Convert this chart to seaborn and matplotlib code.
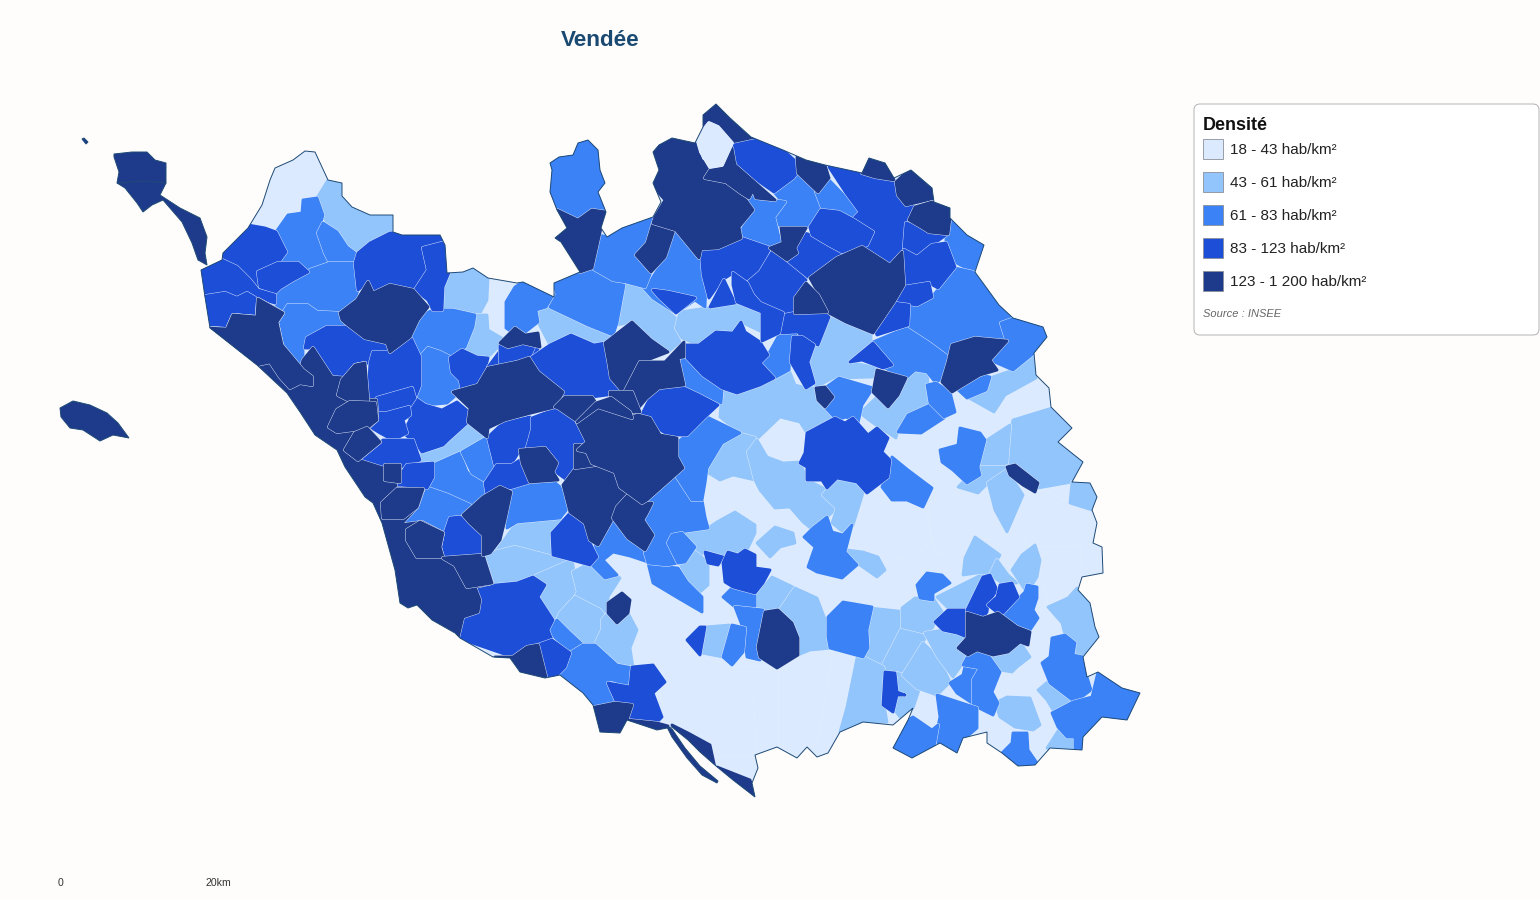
import matplotlib
matplotlib.use("Agg")
import matplotlib.pyplot as plt
import seaborn as sns
from matplotlib.patches import Polygon, FancyBboxPatch, Rectangle

#DATA: classes and commune shapes (x, y on the 1540x900 sheet)
class_labels = ["18 - 43 hab/km²", "43 - 61 hab/km²", "61 - 83 hab/km²", "83 - 123 hab/km²", "123 - 1 200 hab/km²"]
class_colors = ["#dbeafe", "#93c5fd", "#3b82f6", "#1d4ed8", "#1e3a8a"]

mainland = [(248,228),(262,205),(270,180),(275,168),(293,160),(305,151),(315,152),(328,180),(342,183),(342,196),(352,207),(370,215),(393,215),(393,232),(402,235),(440,235),(445,245),(447,273),(463,272),(473,268),(488,278),(517,283),(523,282),(554,297),(554,283),(580,272),(561,242),(555,238),(567,228),(557,210),(550,192),(552,170),(550,163),(559,157),(573,155),(578,143),(588,140),(598,150),(600,170),(605,183),(598,192),(606,212),(601,228),(607,237),(622,228),(653,217),(661,202),(653,183),(659,170),(653,152),(659,145),(672,138),(695,143),(703,127),(703,115),(716,104),(730,118),(751,137),(783,150),(806,160),(825,165),(862,173),(869,158),(885,163),(894,178),(911,170),(932,188),(934,202),(950,208),(950,218),(967,235),(984,245),(975,272),(999,305),(1013,318),(1043,327),(1047,337),(1034,353),(1036,375),(1049,388),(1051,407),(1072,428),(1058,442),(1083,462),(1072,482),(1090,483),(1097,497),(1092,510),(1097,523),(1093,543),(1102,547),(1103,573),(1082,577),(1078,590),(1090,603),(1095,627),(1099,637),(1083,657),(1087,677),(1098,672),(1122,688),(1140,693),(1127,720),(1102,717),(1083,737),(1082,750),(1050,748),(1035,765),(1018,766),(1002,753),(987,743),(987,732),(963,738),(957,753),(940,743),(912,758),(893,748),(908,720),(913,708),(893,725),(863,722),(840,732),(828,753),(817,757),(807,747),(797,758),(777,747),(755,755),(758,768),(752,783),(755,797),(733,780),(716,766),(700,752),(688,740),(672,727),(657,730),(627,720),(620,733),(600,732),(593,705),(583,693),(560,675),(545,678),(520,672),(510,658),(493,657),(460,638),(455,633),(432,620),(417,605),(408,608),(400,603),(395,570),(382,523),(373,503),(365,497),(345,467),(337,450),(315,435),(300,412),(287,393),(257,365),(210,328),(205,297),(201,270),(222,260),(223,253)]

islands = [
    [(114,154),(132,152),(147,152),(155,160),(166,163),(166,183),(119,183),(117,183),(119,172),(114,157)],
    [(117,183),(142,181),(166,183),(160,195),(180,208),(200,218),(207,237),(205,253),(207,265),(198,260),(192,243),(182,222),(163,200),(152,205),(143,212),(137,203),(125,188)],
    [(60,408),(73,401),(90,405),(107,413),(118,423),(129,438),(113,435),(100,441),(83,430),(70,428),(61,417)],
    [(82,139),(84,138),(88,142),(86,144)],
    [(667,727),(672,729),(685,748),(700,766),(718,781),(717,783),(702,775),(687,758),(672,737)],
]

cells_18_43 = [
    [(777,668),(810,650),(835,648),(830,680),(820,740),(807,747),(797,758),(777,747)],
    [(732,668),(777,668),(777,747),(755,755),(752,700)],
    [(656,680),(690,655),(732,668),(752,700),(755,755),(715,755),(690,725),(665,705)],
    [(835,648),(856,656),(848,700),(840,732),(828,753),(820,740),(830,680)],
    [(855,520),(880,490),(905,500),(925,510),(930,540),(915,555),(885,560),(852,545)],
    [(930,505),(950,490),(985,520),(1005,535),(975,540),(965,558),(935,550)],
    [(1040,560),(1060,545),(1078,540),(1080,575),(1075,590),(1050,605)],
    [(1010,510),(1040,490),(1070,505),(1092,510),(1097,523),(1093,543),(1060,545),(1030,545)],
]

cells_43_61 = [
    [(328,180),(317,198),(323,215),(327,223),(338,232),(347,247),(362,252),(370,243),(388,233),(395,227),(398,213),(370,205),(345,175)],
    [(442,310),(443,290),(443,277),(460,272),(473,268),(488,278),(487,300),(480,313),(470,313),(453,310)],
    [(477,315),(487,315),(488,330),(505,340),(488,357),(477,357),(465,348),(473,330)],
    [(546,307),(588,325),(613,330),(605,342),(594,345),(571,335),(550,345),(538,322),(536,310)],
    [(626,282),(643,287),(653,298),(680,322),(676,332),(680,342),(668,352),(651,340),(632,322),(617,325),(624,302)],
    [(680,312),(707,308),(737,302),(760,312),(762,332),(741,322),(739,332),(716,332),(699,345),(682,338),(676,328)],
    [(421,453),(443,443),(468,423),(485,438),(460,452),(433,463),(422,462)],
    [(497,550),(517,522),(562,519),(553,535),(553,557),(515,547),(490,552)],
    [(483,555),(515,547),(553,557),(570,560),(557,573),(533,577),(517,583),(493,583)],
    [(533,577),(572,560),(578,592),(575,597),(560,613),(557,620),(548,610),(538,597),(545,585)],
    [(573,572),(590,563),(620,578),(608,597),(608,613),(600,610),(575,597),(578,592)],
    [(560,613),(575,597),(600,610),(605,617),(602,630),(595,643),(585,643),(570,633),(557,620)],
    [(602,620),(608,613),(617,623),(628,613),(637,630),(630,648),(633,667),(617,665),(595,645),(602,630)],
    [(722,392),(739,393),(760,385),(775,378),(789,370),(795,385),(806,388),(816,388),(835,418),(807,433),(800,422),(780,417),(758,438),(740,433),(720,417)],
    [(707,472),(720,443),(737,433),(755,438),(747,452),(755,480),(733,475),(720,480)],
    [(748,452),(757,440),(767,457),(783,463),(800,462),(807,480),(823,488),(837,508),(813,530),(803,522),(790,507),(775,508),(760,490),(755,480)],
    [(823,495),(837,478),(857,482),(863,493),(853,525),(847,535),(832,523),(837,508)],
    [(829,318),(846,322),(871,335),(871,342),(850,362),(877,368),(875,377),(833,378),(816,387),(808,362),(814,345),(825,325)],
    [(860,413),(877,397),(888,407),(906,378),(915,372),(927,373),(930,405),(900,423),(896,438),(873,423)],
    [(990,378),(1013,370),(1032,353),(1036,378),(1005,395),(994,412),(969,398)],
    [(1007,443),(1013,420),(1052,408),(1058,413),(1072,428),(1058,442),(1083,462),(1072,482),(1038,488),(1025,477),(1007,465)],
    [(1072,482),(1090,483),(1097,497),(1092,510),(1070,503)],
    [(978,467),(987,440),(1010,425),(1007,463),(990,467)],
    [(958,487),(978,467),(1007,467),(988,483),(978,493)],
    [(988,483),(1007,470),(1023,495),(1007,532),(995,510)],
    [(847,550),(863,552),(878,557),(885,570),(877,577),(857,563)],
    [(757,543),(775,527),(793,533),(795,543),(780,547),(770,557)],
    [(680,532),(708,528),(717,522),(735,512),(755,525),(755,533),(747,550),(725,555),(710,550),(700,555),(680,542)],
    [(680,563),(695,552),(708,562),(708,585),(700,592),(687,582)],
    [(755,597),(772,577),(795,588),(785,608),(763,610),(755,605)],
    [(780,610),(795,588),(817,598),(828,627),(832,648),(810,650),(798,655),(797,640),(798,637),(792,622)],
    [(705,627),(730,625),(723,657),(702,653)],
    [(860,642),(870,608),(907,612),(900,627),(882,667),(863,657)],
    [(882,667),(902,628),(927,632),(923,643),(902,677)],
    [(902,608),(915,598),(933,598),(943,613),(935,620),(933,627),(927,633),(902,627)],
    [(937,597),(957,587),(977,577),(985,573),(973,607),(965,610),(948,608)],
    [(963,575),(965,558),(975,537),(1000,555),(990,573),(977,573)],
    [(990,575),(997,560),(1008,575),(1017,583),(1002,583)],
    [(1012,570),(1022,555),(1035,545),(1040,560),(1037,577),(1027,593)],
    [(1048,607),(1068,598),(1077,588),(1090,603),(1095,627),(1099,637),(1083,657),(1073,657),(1075,643),(1065,635),(1062,623)],
    [(1038,690),(1050,680),(1073,700),(1067,710),(1053,710),(1047,700)],
    [(1047,748),(1060,728),(1075,737),(1075,753),(1058,752)],
    [(995,703),(1007,697),(1030,698),(1040,725),(1033,730),(1015,727),(1000,717)],
    [(847,707),(857,658),(863,657),(883,667),(885,672),(883,700),(887,722),(863,722),(840,732)],
    [(897,673),(903,675),(920,687),(913,708),(900,717),(893,708),(897,695)],
    [(903,675),(923,643),(938,657),(950,682),(937,695),(917,688)],
    [(925,633),(943,630),(967,637),(958,648),(970,653),(963,663),(953,677),(938,657)],
    [(990,657),(1008,652),(1020,642),(1030,657),(1017,667),(1012,672),(1000,670)],
]

cells_61_83 = [
    [(550,192),(552,170),(550,163),(559,157),(573,155),(578,143),(588,140),(598,150),(600,170),(605,183),(598,192),(606,212),(592,210),(578,220),(557,210)],
    [(303,200),(317,198),(323,215),(318,233),(327,260),(327,265),(308,270),(300,262),(278,263),(285,252),(276,232),(288,215),(302,213)],
    [(323,223),(337,232),(347,247),(355,253),(352,263),(330,263),(325,253),(318,233)],
    [(275,297),(280,288),(293,280),(310,270),(330,263),(355,263),(358,290),(355,300),(340,313),(317,312),(307,305),(288,305),(283,313),(275,303)],
    [(283,313),(288,305),(307,305),(317,312),(338,313),(342,322),(348,327),(327,327),(307,337),(303,347),(303,367),(297,363),(282,345),(278,322)],
    [(418,317),(433,310),(453,310),(475,315),(473,327),(465,347),(450,357),(440,352),(428,348),(420,357),(412,340)],
    [(420,357),(428,348),(440,352),(450,357),(452,372),(460,380),(462,390),(447,403),(425,405),(415,398),(420,385)],
    [(523,282),(554,295),(546,307),(536,310),(538,322),(519,337),(506,328),(506,302),(515,287)],
    [(554,283),(590,268),(613,280),(624,285),(617,323),(613,335),(588,325),(550,307),(557,295)],
    [(433,465),(460,453),(467,472),(485,483),(485,500),(470,507),(448,495),(428,487)],
    [(462,452),(488,437),(495,463),(487,482),(472,473)],
    [(428,488),(448,495),(470,505),(457,517),(443,533),(422,522),(405,523),(417,507)],
    [(512,489),(552,480),(560,487),(568,508),(560,518),(517,522),(507,528),(508,507)],
    [(557,620),(570,633),(583,645),(570,653),(548,630)],
    [(583,645),(595,645),(617,665),(633,668),(630,687),(613,680),(608,680),(617,703),(593,705),(583,693),(560,675),(570,653)],
    [(648,563),(667,567),(678,568),(687,582),(702,597),(702,612),(678,598),(653,583)],
    [(590,563),(597,555),(595,543),(612,520),(628,538),(645,553),(648,562),(630,556),(613,552),(603,560),(617,575),(605,578)],
    [(677,477),(692,500),(702,500),(705,517),(708,528),(680,532),(668,543),(678,563),(667,565),(648,563),(645,553),(653,537),(643,518),(653,507),(647,500)],
    [(677,443),(707,417),(740,433),(722,443),(707,468),(705,483),(702,500),(692,500),(677,477),(683,468),(675,457)],
    [(678,362),(687,358),(703,375),(722,390),(721,403),(699,392),(684,385)],
    [(651,280),(665,258),(676,232),(699,258),(706,285),(705,307),(695,300),(676,313),(653,298),(643,287)],
    [(599,235),(607,237),(622,228),(655,216),(647,243),(636,255),(651,272),(645,287),(626,282),(613,280),(592,268)],
    [(774,192),(798,173),(816,192),(821,208),(810,227),(781,228),(774,215),(785,205)],
    [(741,193),(749,198),(753,190),(754,198),(785,202),(774,217),(781,245),(770,248),(739,235),(753,210)],
    [(816,192),(829,180),(860,212),(854,218),(837,212),(823,210)],
    [(946,223),(950,218),(967,235),(984,245),(973,272),(955,262),(946,243)],
    [(907,305),(932,297),(955,268),(973,272),(999,305),(1011,318),(1001,323),(1007,340),(955,343),(948,357),(930,342),(908,328)],
    [(1001,323),(1015,318),(1043,327),(1047,337),(1034,353),(1013,370),(990,360),(1007,342)],
    [(955,387),(980,375),(990,377),(986,390),(967,398)],
    [(873,342),(906,328),(929,343),(948,357),(948,372),(936,383),(927,372),(915,370),(906,378),(885,368),(892,365),(877,352)],
    [(825,388),(839,378),(873,388),(862,405),(858,423),(846,417),(837,420),(823,405)],
    [(898,432),(908,415),(930,405),(944,418),(921,433)],
    [(927,385),(936,383),(950,392),(955,412),(944,417),(930,403)],
    [(882,487),(892,457),(908,470),(932,488),(923,507),(907,500),(892,500)],
    [(940,450),(958,445),(960,428),(980,433),(985,440),(978,467),(980,475),(967,483),(953,470),(942,462)],
    [(804,537),(813,528),(827,517),(832,532),(843,535),(852,525),(845,552),(857,565),(842,578),(817,572),(808,567),(815,547)],
    [(672,535),(682,533),(695,547),(685,562),(678,563),(668,543)],
    [(723,597),(733,587),(755,595),(755,607),(735,607)],
    [(743,628),(735,607),(763,610),(758,647),(760,660),(747,657)],
    [(732,625),(745,628),(743,652),(732,665),(723,657)],
    [(828,617),(843,602),(872,607),(867,630),(868,648),(863,657),(830,648),(828,637)],
    [(917,585),(927,573),(942,575),(950,583),(933,593),(933,600),(920,598)],
    [(1000,617),(1020,597),(1025,592),(1027,585),(1037,587),(1037,598),(1033,610),(1038,618),(1030,630),(1017,627)],
    [(1052,638),(1065,635),(1075,643),(1073,655),(1083,657),(1087,677),(1091,690),(1075,702),(1050,683),(1042,663),(1050,657)],
    [(1052,713),(1073,702),(1092,697),(1098,672),(1122,688),(1145,693),(1127,720),(1102,717),(1083,737),(1082,752),(1075,752),(1075,737),(1067,737),(1058,727)],
    [(1002,753),(1012,743),(1013,733),(1027,733),(1028,750),(1037,763),(1018,768)],
    [(950,683),(963,675),(967,657),(978,667),(972,680),(972,703),(957,693)],
    [(973,680),(980,668),(963,665),(970,652),(988,655),(1000,672),(992,692),(998,703),(993,715),(973,705)],
    [(937,695),(977,708),(977,728),(963,740),(957,755),(940,745),(935,740),(940,717)],
    [(890,750),(908,720),(913,717),(932,730),(938,725),(935,742),(933,750),(912,760)],
    [(779,335),(798,332),(791,338),(789,370),(774,378),(760,362),(768,355)],
]

cells_83_123 = [
    [(248,225),(265,228),(276,232),(286,252),(278,263),(262,270),(257,287),(247,273),(237,267),(222,260),(223,253),(237,240)],
    [(258,272),(278,263),(298,263),(308,272),(293,280),(280,288),(275,293),(260,287)],
    [(198,270),(222,260),(237,267),(250,280),(258,290),(275,295),(275,303),(257,298),(247,293),(237,298),(225,293),(200,297)],
    [(200,297),(225,293),(237,298),(247,293),(257,299),(257,317),(243,313),(233,315),(227,329),(205,328)],
    [(307,338),(327,327),(350,327),(365,338),(387,345),(387,352),(373,352),(368,363),(355,365),(342,378),(332,377),(320,357),(313,348),(305,348)],
    [(358,253),(370,243),(390,233),(445,232),(442,243),(423,248),(428,270),(415,290),(390,285),(373,293),(368,282),(358,290),(355,263)],
    [(423,248),(442,243),(450,253),(450,270),(443,287),(442,310),(433,310),(428,300),(415,290),(428,270)],
    [(370,363),(373,352),(387,352),(410,337),(412,340),(420,357),(420,385),(415,398),(412,388),(377,398),(368,398)],
    [(450,358),(462,350),(477,357),(488,358),(485,370),(478,385),(462,390),(460,380),(452,372)],
    [(488,367),(503,347),(520,342),(537,347),(540,357),(517,362),(488,368)],
    [(500,345),(523,343),(534,347),(529,358),(500,367)],
    [(531,358),(550,345),(571,335),(594,345),(605,343),(609,365),(622,393),(592,397),(565,397),(550,382),(536,370)],
    [(415,398),(425,405),(442,410),(457,402),(470,413),(468,422),(448,440),(443,445),(422,452),(415,442),(403,433),(410,420),(408,410)],
    [(377,398),(412,388),(415,398),(409,407),(387,413),(377,412)],
    [(377,413),(387,413),(409,407),(410,415),(403,420),(407,433),(393,440),(380,433),(367,425),(375,420)],
    [(358,462),(383,440),(403,440),(413,440),(420,460),(407,465),(397,468),(380,467)],
    [(397,480),(407,465),(433,463),(433,477),(427,488),(397,488)],
    [(488,437),(503,423),(530,417),(532,430),(527,448),(520,450),(512,463),(495,465)],
    [(532,418),(558,408),(577,422),(587,442),(578,450),(578,465),(567,480),(553,470),(557,463),(545,450),(527,448),(532,430)],
    [(485,483),(497,465),(512,465),(520,460),(523,470),(530,482),(510,488),(500,487),(487,495)],
    [(440,547),(450,518),(460,517),(470,523),(483,535),(483,555),(460,560),(443,557)],
    [(475,587),(517,583),(533,577),(545,585),(538,597),(553,620),(548,630),(552,640),(513,657),(487,648),(458,638),(463,617),(478,612),(480,600)],
    [(538,645),(552,640),(570,653),(565,667),(557,675),(546,677)],
    [(632,667),(653,665),(665,682),(653,693),(662,717),(657,722),(628,720),(632,705),(617,703),(608,683),(630,687)],
    [(552,533),(570,513),(585,525),(590,543),(597,557),(590,565),(572,560),(553,555)],
    [(640,418),(649,400),(659,388),(684,388),(699,395),(718,405),(705,417),(687,435),(668,435),(653,425)],
    [(653,290),(668,292),(695,298),(676,313),(659,297)],
    [(684,345),(699,345),(716,332),(733,333),(741,322),(745,332),(760,342),(768,355),(760,363),(774,378),(760,385),(737,393),(722,388),(703,375),(687,358)],
    [(732,142),(751,137),(783,150),(802,167),(793,178),(774,192),(735,165)],
    [(829,167),(862,173),(894,180),(898,195),(915,207),(906,222),(904,255),(890,265),(864,247),(873,232),(854,218),(860,212),(846,193)],
    [(906,223),(921,227),(929,232),(946,235),(932,245),(917,257),(904,248)],
    [(904,250),(917,257),(932,245),(946,243),(955,267),(938,288),(929,283),(906,287)],
    [(904,287),(929,283),(932,297),(917,305),(896,302)],
    [(873,325),(894,303),(909,305),(908,325),(877,335)],
    [(850,362),(873,343),(892,365),(883,368),(862,360)],
    [(701,250),(741,238),(770,248),(756,278),(747,283),(733,273),(722,280),(709,298),(703,275)],
    [(772,252),(787,260),(806,280),(795,298),(795,313),(781,312),(760,303),(753,295),(747,283),(760,272)],
    [(787,260),(795,253),(800,232),(812,235),(829,245),(842,253),(833,265),(808,277)],
    [(810,227),(821,210),(839,212),(854,220),(873,232),(867,245),(842,252),(829,245),(812,235)],
    [(785,315),(795,313),(825,313),(829,317),(818,345),(802,337),(798,332),(779,333)],
    [(710,307),(724,280),(735,303)],
    [(733,273),(747,283),(753,295),(760,303),(783,313),(779,333),(762,341),(762,312),(737,302),(733,285)],
    [(793,337),(802,337),(814,345),(808,362),(814,383),(806,388),(791,362)],
    [(807,433),(835,418),(845,423),(853,418),(868,435),(877,428),(888,438),(882,452),(890,460),(888,477),(867,493),(857,482),(837,478),(827,488),(822,480),(807,480),(807,467),(800,463),(805,453)],
    [(705,552),(723,557),(718,565),(708,563)],
    [(723,563),(728,552),(738,555),(745,550),(755,555),(755,568),(770,570),(763,583),(755,593),(733,587),(725,582)],
    [(700,627),(705,627),(700,655),(687,640)],
    [(935,622),(948,610),(967,610),(967,637),(957,633),(943,630)],
    [(967,610),(983,577),(990,575),(997,590),(988,603),(987,612),(983,618),(967,613)],
    [(988,605),(997,597),(1000,585),(1012,583),(1018,597),(1003,613),(998,613)],
    [(885,672),(895,673),(897,692),(905,695),(897,695),(893,712),(883,705)],
]

cells_123_1200 = [
    [(195,330),(210,328),(227,329),(233,315),(257,317),(258,299),(275,308),(283,313),(277,322),(282,345),(300,370),(303,360),(313,348),(332,377),(345,378),(355,365),(365,363),(367,400),(376,400),(377,412),(377,420),(368,428),(380,442),(358,460),(380,467),(390,470),(387,478),(397,480),(395,488),(423,490),(417,507),(405,520),(400,525),(422,522),(443,533),(440,547),(443,558),(463,560),(483,555),(492,583),(475,587),(480,600),(478,612),(463,617),(458,638),(440,650),(380,600),(350,500)],
    [(342,380),(355,365),(365,363),(368,400),(348,400),(338,395)],
    [(385,465),(400,465),(400,482),(385,480)],
    [(397,489),(423,489),(417,507),(403,518),(383,518),(382,503)],
    [(407,530),(420,522),(443,533),(440,547),(443,557),(417,557),(407,540)],
    [(443,558),(483,555),(492,583),(467,587),(455,565)],
    [(329,427),(337,410),(350,402),(375,403),(377,420),(367,428),(337,432)],
    [(345,450),(355,433),(367,428),(380,442),(358,460)],
    [(257,365),(270,362),(280,377),(290,388),(300,383),(312,385),(312,377),(303,370),(282,345),(277,322),(283,313),(258,299),(257,317),(233,315),(227,329),(205,328)],
    [(340,313),(357,300),(368,282),(373,293),(390,285),(413,290),(428,307),(418,320),(410,337),(390,352),(387,343),(365,338),(348,325),(342,320)],
    [(500,343),(515,328),(525,335),(538,333),(540,347),(523,343),(508,347)],
    [(453,392),(478,385),(488,368),(517,362),(529,358),(538,372),(563,392),(555,407),(531,413),(505,420),(488,428),(487,437),(468,422),(470,408)],
    [(520,450),(545,448),(557,463),(553,472),(558,480),(530,482),(522,463)],
    [(463,515),(483,497),(500,487),(511,492),(505,520),(500,540),(490,553),(483,555),(483,535),(470,523)],
    [(495,657),(513,657),(527,647),(538,645),(546,677),(520,672),(490,665)],
    [(590,708),(615,703),(632,705),(627,720),(657,723),(668,726),(668,736),(620,736),(597,736)],
    [(608,603),(622,593),(630,600),(628,613),(617,623),(608,613)],
    [(563,485),(578,465),(590,462),(615,472),(620,488),(628,495),(615,510),(613,518),(598,545),(590,540),(585,523),(570,512)],
    [(628,495),(642,503),(652,503),(647,513),(643,520),(653,535),(645,550),(628,538),(613,518),(617,507)],
    [(575,445),(592,445),(595,465),(575,468)],
    [(587,452),(578,450),(587,442),(577,422),(598,407),(630,413),(650,418),(660,435),(677,438),(677,457),(683,468),(647,500),(642,503),(627,492),(620,487),(615,472),(592,463)],
    [(605,343),(632,322),(651,340),(668,352),(642,362),(624,393),(611,378),(609,365)],
    [(624,393),(640,362),(665,362),(684,342),(684,357),(678,358),(684,385),(659,388),(647,398),(634,413),(630,400)],
    [(610,392),(632,392),(640,412),(612,410)],
    [(555,407),(565,397),(592,397),(596,403),(577,421),(558,408)],
    [(596,403),(611,398),(630,412),(632,418),(598,407),(577,422)],
    [(636,255),(647,243),(653,223),(674,230),(665,257),(651,272)],
    [(655,217),(665,200),(650,183),(650,150),(672,135),(695,140),(701,160),(712,167),(705,178),(726,182),(741,193),(753,210),(739,227),(741,238),(718,248),(701,249),(699,258),(676,230),(653,223)],
    [(703,127),(700,112),(716,100),(732,116),(755,137),(732,142),(718,127),(709,123)],
    [(712,167),(732,148),(735,165),(775,200),(756,198),(753,190),(749,198),(741,193),(726,182),(705,178)],
    [(797,157),(825,165),(829,178),(818,192),(798,173)],
    [(862,173),(869,155),(885,160),(894,180),(875,177)],
    [(896,182),(911,168),(932,186),(936,198),(906,205),(898,195)],
    [(909,220),(915,207),(932,202),(952,208),(950,218),(948,234),(929,232),(921,227)],
    [(837,258),(862,247),(890,265),(902,252),(904,285),(894,302),(873,333),(846,322),(829,313),(821,298),(810,278)],
    [(770,248),(783,243),(781,228),(806,228),(795,248),(797,253),(787,260)],
    [(795,298),(806,283),(818,295),(827,312),(795,313)],
    [(816,388),(825,387),(833,397),(825,407),(818,400)],
    [(877,370),(906,378),(898,395),(888,407),(873,392)],
    [(952,345),(975,338),(1007,341),(990,360),(997,370),(980,375),(952,392),(942,382),(948,362)],
    [(1007,467),(1015,465),(1038,483),(1035,492),(1023,485),(1010,475)],
    [(758,647),(765,612),(778,610),(792,623),(798,638),(798,655),(777,668),(760,657)],
    [(958,648),(967,638),(967,613),(983,618),(998,613),(1017,627),(1030,632),(1028,645),(1020,642),(1008,652),(993,655),(977,650),(968,655)],
    [(672,725),(688,733),(710,745),(715,768),(700,755),(685,742)],
    [(717,767),(750,780),(756,798),(730,777)],
    [(557,210),(578,220),(592,210),(606,212),(601,228),(592,268),(580,272),(561,242),(555,238),(567,228)],
]

cells_peak = [
    [(697,138),(709,123),(718,127),(732,143),(722,165),(710,167),(701,152)],
]

cell_lists = [cells_18_43, cells_43_61, cells_61_83, cells_83_123, cells_123_1200, cells_peak]
cell_classes = [0, 1, 2, 3, 4, 0]

sns.set_theme(style="white")
plt.rcParams["font.family"] = ["Liberation Sans", "DejaVu Sans"]
palette = sns.color_palette(class_colors)
border = "#1e4a76"
paper = "#fefdfc"

fig = plt.figure(figsize=(15.4, 9), dpi=100, facecolor=paper)
ax = fig.add_axes([0, 0, 1, 1])
ax.set_xlim(0, 1540)
ax.set_ylim(900, 0)
ax.axis("off")

#light base, every other commune is drawn over it and cut along the coast
base = Polygon(mainland, closed=True, facecolor=palette[0], edgecolor="none")
ax.add_patch(base)

#wide stroke in the own colour closes small gaps between shapes, the ring under it gives the thin commune line
for cells, c in zip(cell_lists, cell_classes):
    for shape in cells:
        ring = Polygon(shape, closed=True, facecolor="none", edgecolor="#e6f0ff", linewidth=2.7, joinstyle="round")
        fill = Polygon(shape, closed=True, facecolor=palette[c], edgecolor=palette[c], linewidth=2.1, joinstyle="round")
        ax.add_patch(ring)
        ax.add_patch(fill)
        ring.set_clip_path(base)
        fill.set_clip_path(base)
ax.add_patch(Polygon(mainland, closed=True, fill=False, edgecolor=border, linewidth=0.7))

for shape in islands:
    ax.add_patch(Polygon(shape, closed=True, facecolor=palette[4], edgecolor=border, linewidth=0.7))

ax.text(600, 40, "Vendée", fontsize=16.2, fontweight="bold", color="#1a4971", ha="center", va="center")

#legend box
ax.add_patch(FancyBboxPatch((1194, 104), 345, 231, boxstyle="round,pad=0,rounding_size=6", facecolor="#ffffff", edgecolor="#b3b3b3", linewidth=0.7))
ax.text(1203, 126, "Densité", fontsize=13, fontweight="bold", color="#111111", va="center")
for i, label in enumerate(class_labels):
    y = 139 + i * 33
    ax.add_patch(Rectangle((1203, y), 20, 20, facecolor=palette[i], edgecolor="#8a8f98", linewidth=0.6))
    ax.text(1230, y + 11, label, fontsize=11, color="#222222", va="center")
ax.text(1203, 314, "Source : INSEE", fontsize=8, style="italic", color="#666666", va="center")

#scale
ax.text(60, 883, "0", fontsize=7.6, color="#333333", ha="center", va="center")
ax.text(218, 883, "20km", fontsize=7.6, color="#333333", ha="center", va="center")

fig.savefig("out.png", dpi=100, facecolor=paper)
